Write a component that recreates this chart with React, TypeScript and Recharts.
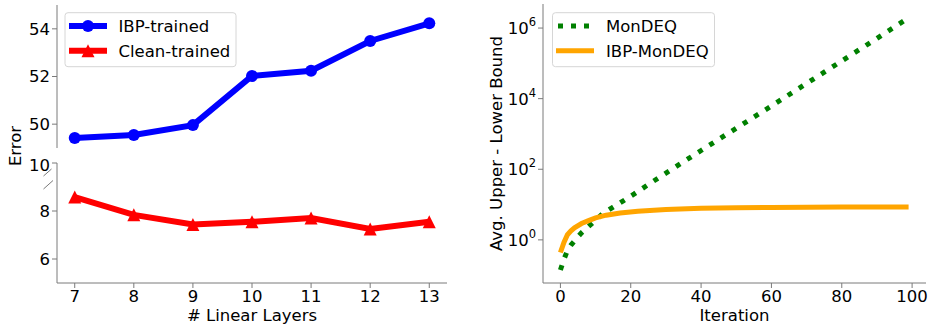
import React from 'react';
import { LineChart, Line, XAxis, YAxis } from 'recharts';

const layers = [7, 8, 9, 10, 11, 12, 13];
const ibpTrained = [49.42, 49.55, 49.96, 52.02, 52.24, 53.49, 54.23];
const cleanTrained = [8.58, 7.84, 7.44, 7.55, 7.71, 7.25, 7.55];
const layerTicks = [7, 8, 9, 10, 11, 12, 13];
const topTicks = [50, 52, 54];
const bottomTicks = [6, 8, 10];

const monIters = [0, 1, 2, 3, 4, 5, 6, 8, 10, 12, 15, 18, 21, 25, 30, 40, 50, 60, 70, 80, 90, 99];
const monValues = [0.14, 0.28, 0.5, 0.71, 0.93, 1.23, 1.58, 2.4, 3.6, 5.5, 8.5, 13, 20, 37, 78, 340, 1450, 6200, 27000, 117000, 510000, 1950000];
const ibpIters = [0, 1, 2, 3, 4, 6, 8, 10, 13, 17, 22, 30, 40, 50, 60, 80, 99];
const ibpValues = [0.44, 0.85, 1.4, 1.8, 2.2, 2.9, 3.5, 4.2, 5.0, 5.8, 6.5, 7.2, 7.8, 8.1, 8.3, 8.5, 8.5];
const iterTicks = [0, 20, 40, 60, 80, 100];
const logTicks = [1, 100, 10000, 1000000];

const FONT = 'DejaVu Sans';
const FS = 16.5;
const AX = '#7a7a7a';

const ibpData = layers.map((l, i) => ({ layers: l, v: ibpTrained[i] }));
const cleanData = layers.map((l, i) => ({ layers: l, v: cleanTrained[i] }));
const monData = monIters.map((it, i) => ({ iter: it, v: monValues[i] }));
const ibpMonData = ibpIters.map((it, i) => ({ iter: it, v: ibpValues[i] }));

const tickStyle = { fill: '#000', fontSize: FS, fontFamily: FONT };

const Triangle = (props: any) => {
  const { cx, cy } = props;
  if (cx == null || cy == null) return null;
  const h = 6.5;
  return <polygon points={`${cx},${cy - h} ${cx - h},${cy + h} ${cx + h},${cy + h}`} fill="#ff0000" />;
};

const LogTick = (props: any) => {
  const { x, y, payload } = props;
  const exp = Math.round(Math.log10(payload.value));
  return (
    <text x={x} y={y + 6} textAnchor="end" fill="#000" fontFamily={FONT} fontSize={FS}>
      <tspan>10</tspan>
      <tspan dy={-8} fontSize={11.5}>{exp}</tspan>
    </text>
  );
};

export default function App() {
  return (
    <div style={{ position: 'absolute', left: 0, top: 0, width: 928, height: 326, background: '#fff', fontFamily: FONT }}>
      {/* Top-left: IBP-trained */}
      <div style={{ position: 'absolute', left: 0, top: 0 }}>
        <LineChart width={460} height={155} data={ibpData} margin={{ top: 5, right: 13, left: 0, bottom: 7 }}>
          <XAxis dataKey="layers" type="number" domain={[6.7, 13.3]} hide />
          <YAxis
            domain={[49, 55]}
            ticks={topTicks}
            type="number"
            width={57}
            allowDataOverflow
            axisLine={{ stroke: AX }}
            tickLine={{ stroke: AX }}
            tickSize={5}
            tick={tickStyle}
          />
          <Line
            dataKey="v"
            stroke="#0000ff"
            strokeWidth={6}
            dot={{ r: 6, fill: '#0000ff', stroke: '#0000ff', strokeWidth: 0 }}
            isAnimationActive={false}
          />
        </LineChart>
      </div>
      {/* Bottom-left: Clean-trained */}
      <div style={{ position: 'absolute', left: 0, top: 155 }}>
        <LineChart width={460} height={171} data={cleanData} margin={{ top: 8, right: 13, left: 0, bottom: 0 }}>
          <XAxis
            dataKey="layers"
            type="number"
            domain={[6.7, 13.3]}
            ticks={layerTicks}
            height={43}
            axisLine={{ stroke: AX }}
            tickLine={{ stroke: AX }}
            tickSize={5}
            tick={tickStyle}
            label={{ value: '# Linear Layers', position: 'insideBottom', offset: 5, fill: '#000', fontSize: FS, fontFamily: FONT }}
          />
          <YAxis
            domain={[5, 10]}
            ticks={bottomTicks}
            type="number"
            width={57}
            allowDataOverflow
            axisLine={{ stroke: AX }}
            tickLine={{ stroke: AX }}
            tickSize={5}
            tick={tickStyle}
          />
          <Line
            dataKey="v"
            stroke="#ff0000"
            strokeWidth={6}
            dot={<Triangle />}
            isAnimationActive={false}
          />
        </LineChart>
      </div>
      {/* Right: log scale */}
      <div style={{ position: 'absolute', left: 460, top: 0 }}>
        <LineChart width={468} height={326} margin={{ top: 4, right: 2, left: 0, bottom: 0 }}>
          <XAxis
            dataKey="iter"
            type="number"
            domain={[-4.95, 103.95]}
            ticks={iterTicks}
            height={43}
            allowDataOverflow
            axisLine={{ stroke: AX }}
            tickLine={{ stroke: AX }}
            tickSize={5}
            tick={tickStyle}
            label={{ value: 'Iteration', position: 'insideBottom', offset: 5, fill: '#000', fontSize: FS, fontFamily: FONT }}
          />
          <XAxis xAxisId="top" orientation="top" type="number" domain={[0, 1]} height={0} tick={false} tickLine={false} axisLine={{ stroke: AX }} />
          <YAxis
            scale="log"
            type="number"
            domain={[0.06, 4.8e6]}
            ticks={logTicks}
            width={83}
            allowDataOverflow
            axisLine={{ stroke: AX }}
            tickLine={{ stroke: AX }}
            tickSize={5}
            tick={(p: any) => <LogTick {...p} />}
            label={(p: any) => {
              const vb = p.viewBox || {};
              const cx = (vb.x || 0) + 36.7;
              const cy = (vb.y || 0) + (vb.height || 0) / 2;
              return (
                <text x={cx} y={cy} transform={`rotate(-90 ${cx} ${cy})`} textAnchor="middle" dominantBaseline="central" fill="#000" fontFamily={FONT} fontSize={FS}>
                  Avg. Upper - Lower Bound
                </text>
              );
            }}
          />
          <YAxis yAxisId="right" orientation="right" type="number" domain={[0, 1]} width={0} tick={false} tickLine={false} axisLine={{ stroke: AX }} />
          <Line
            data={monData}
            dataKey="v"
            stroke="#008000"
            strokeWidth={5}
            strokeDasharray="5 8.25"
            dot={false}
            isAnimationActive={false}
          />
          <Line
            data={ibpMonData}
            dataKey="v"
            stroke="#ffa500"
            strokeWidth={5}
            dot={false}
            isAnimationActive={false}
          />
        </LineChart>
      </div>
      {/* Overlay: legends, shared label, axis break marks */}
      <svg width={928} height={326} style={{ position: 'absolute', left: 0, top: 0, pointerEvents: 'none' }} fontFamily={FONT}>
        <text x={15} y={146} transform="rotate(-90 15 146)" textAnchor="middle" dominantBaseline="central" fontSize={FS} fill="#000">Error</text>
        <line x1={43.5} y1={176} x2={51.5} y2={169} stroke={AX} strokeWidth={1} />
        <line x1={43.5} y1={189} x2={53} y2={180.5} stroke={AX} strokeWidth={1} />

        <rect x={65} y={12.7} width={171} height={54} rx={3} fill="#fff" fillOpacity={0.8} stroke="#d6d6d6" strokeWidth={1} />
        <line x1={69} x2={107} y1={26} y2={26} stroke="#0000ff" strokeWidth={6} />
        <circle cx={88} cy={26} r={6} fill="#0000ff" />
        <text x={118.5} y={32} fontSize={FS} fill="#000">IBP-trained</text>
        <line x1={69} x2={107} y1={50.7} y2={50.7} stroke="#ff0000" strokeWidth={6} />
        <polygon points="88,44.2 81.5,57.2 94.5,57.2" fill="#ff0000" />
        <text x={118.5} y={56.7} fontSize={FS} fill="#000">Clean-trained</text>

        <rect x={552.5} y={12.7} width={162} height={54} rx={3} fill="#fff" fillOpacity={0.8} stroke="#d6d6d6" strokeWidth={1} />
        <line x1={558} x2={593} y1={26} y2={26} stroke="#008000" strokeWidth={5} strokeDasharray="5 8" />
        <text x={606} y={32} fontSize={FS} fill="#000">MonDEQ</text>
        <line x1={556} x2={594} y1={50.7} y2={50.7} stroke="#ffa500" strokeWidth={5} />
        <text x={606} y={56.7} fontSize={FS} fill="#000">IBP-MonDEQ</text>
      </svg>
    </div>
  );
}
